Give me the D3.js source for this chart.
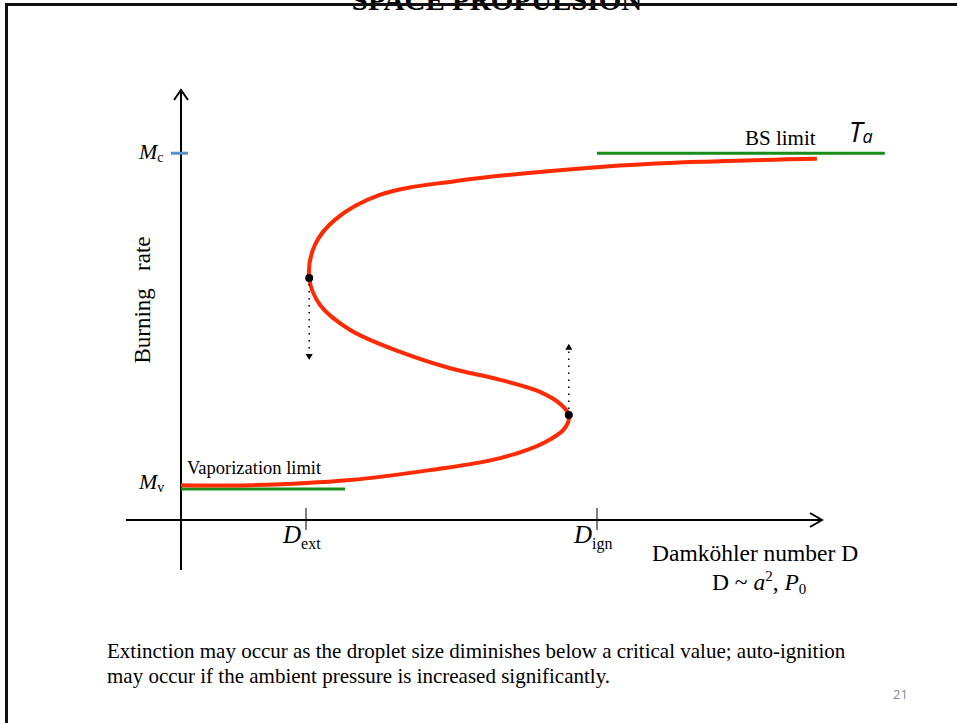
<!DOCTYPE html>
<html>
  <head>
    <meta charset="utf-8">
    <title>S-curve</title>
    <style>
      body { margin: 0; background: #fff; }
      .serif { font-family: "Liberation Serif", "Times New Roman", serif; }
      .sans { font-family: "Open Sans", "DejaVu Sans", sans-serif; }
    </style>
  </head>
  <body>
    <div class="chart"></div>
    <script src="https://d3js.org/d3.v7.min.js"></script>
    <script>
      // S-curve: burning rate vs Damkohler number (arbitrary units, 0-100)
      const curveD    = [0, 10.8, 26.4, 38.8, 49.8, 56.8, 59.9, 60.5, 59.4, 56.0, 49.8, 42.0, 34.2, 26.4, 21.7, 20.0, 20.9, 24.0, 31.0, 42.7, 65.4, 81.0, 99.2];
      const curveRate = [8.1, 8.1, 9.3, 11.6, 14.4, 18.1, 21.4, 24.4, 26.7, 29.8, 32.6, 35.3, 39.1, 44.2, 50.0, 56.3, 64.0, 69.8, 75.6, 78.8, 82.1, 83.3, 84.0];

      // turning points (extinction, ignition)
      const turnD    = [20.0, 60.5];
      const turnRate = [56.3, 24.4];
      const jumpTo   = [37.2, 41.0];   // dotted arrow end rate

      // limits
      const Mc = 85.3, Mv = 7.2;
      const bsLimit  = [64.9, 109.8];
      const vapLimit = [0, 25.6];

      // x ticks
      const xTicks = [19.5, 64.9];
      const xTickSubs = ["ext", "ign"];

      const W = 957, H = 723;
      const svg = d3.select(".chart").append("svg")
        .attr("width", W).attr("height", H)
        .attr("class", "serif");

      const x = d3.scaleLinear().domain([0, 100]).range([181, 822]);
      const y = d3.scaleLinear().domain([0, 100]).range([520, 90]);

      // slide frame and title
      svg.append("text")
        .attr("x", 497).attr("y", 10)
        .attr("text-anchor", "middle")
        .attr("font-size", 29).attr("font-weight", "bold")
        .text("SPACE PROPULSION");
      svg.append("path")
        .attr("d", `M6.5,${H} V4.5 H${W}`)
        .attr("fill", "none").attr("stroke", "#111").attr("stroke-width", 3);

      // axes
      const ax = svg.append("g").attr("stroke", "#000").attr("stroke-width", 2).attr("fill", "none");
      ax.append("line").attr("x1", x(0)).attr("x2", x(0)).attr("y1", 570).attr("y2", y(100) + 1);
      ax.append("path").attr("d", `M${x(0) - 7},${y(100) + 10} L${x(0)},${y(100)} L${x(0) + 7},${y(100) + 10}`);
      ax.append("line").attr("x1", 126).attr("x2", x(100) - 1).attr("y1", y(0)).attr("y2", y(0));
      ax.append("path").attr("d", `M${x(100) - 12},${y(0) - 7} L${x(100)},${y(0)} L${x(100) - 12},${y(0) + 7}`);

      // x ticks
      xTicks.forEach((t, i) => {
        svg.append("line")
          .attr("x1", x(t)).attr("x2", x(t)).attr("y1", y(0) - 12).attr("y2", y(0) + 10)
          .attr("stroke", "#000").attr("stroke-width", 1);
        const lbl = svg.append("text")
          .attr("x", x(t) - 23).attr("y", y(0) + 23)
          .attr("font-size", 25);
        lbl.append("tspan").attr("font-style", "italic").text("D");
        lbl.append("tspan").attr("font-size", 16).attr("dy", 6).text(xTickSubs[i]);
      });

      // Mc tick
      svg.append("line")
        .attr("x1", x(0) - 10).attr("x2", x(0) + 7).attr("y1", y(Mc)).attr("y2", y(Mc))
        .attr("stroke", "#5b8fd0").attr("stroke-width", 3);

      // y labels
      [["c", Mc, 6], ["v", Mv, 0]].forEach(([s, v, dy]) => {
        const t = svg.append("text")
          .attr("x", 139).attr("y", y(v) + dy)
          .attr("font-size", 22);
        t.append("tspan").attr("font-style", "italic").text("M");
        t.append("tspan").attr("font-size", 14).attr("dy", 3).text(s);
      });

      svg.append("text")
        .attr("transform", `translate(150,300) rotate(-90)`)
        .attr("text-anchor", "middle")
        .attr("font-size", 23)
        .style("white-space", "pre")
        .text("Burning   rate");

      // limit lines
      const green = "#1a8c1a";
      svg.append("line")
        .attr("x1", x(bsLimit[0])).attr("x2", x(bsLimit[1])).attr("y1", y(Mc)).attr("y2", y(Mc))
        .attr("stroke", green).attr("stroke-width", 3);
      svg.append("line")
        .attr("x1", x(vapLimit[0])).attr("x2", x(vapLimit[1])).attr("y1", y(Mv)).attr("y2", y(Mv))
        .attr("stroke", green).attr("stroke-width", 3);

      svg.append("text").attr("x", 745).attr("y", 145).attr("font-size", 21).text("BS limit");
      svg.append("text").attr("x", 187).attr("y", 474).attr("font-size", 18.5).text("Vaporization limit");

      const ta = svg.append("text").attr("x", 849).attr("y", 142)
        .attr("class", "sans").attr("font-style", "italic")
        .attr("font-size", 27);
      ta.append("tspan").text("T");
      ta.append("tspan").attr("font-size", 18).attr("dy", 1).text("a");

      // S-curve
      const pts = curveD.map((d, i) => [x(d), y(curveRate[i])]);
      svg.append("path")
        .attr("d", d3.line().curve(d3.curveCatmullRom.alpha(0.5))(pts))
        .attr("fill", "none").attr("stroke", "#ff2a00").attr("stroke-width", 4)
        .attr("stroke-linecap", "butt");

      // dotted jumps
      turnD.forEach((d, i) => {
        const y0 = y(turnRate[i]), y1 = y(jumpTo[i]);
        const dir = y1 > y0 ? 1 : -1;
        svg.append("line")
          .attr("x1", x(d)).attr("x2", x(d)).attr("y1", y0 + dir * 6).attr("y2", y1 - dir * 6)
          .attr("stroke", "#000").attr("stroke-width", 1.5).attr("stroke-dasharray", "1.5,5.5");
        svg.append("path")
          .attr("d", `M${x(d) - 3.5},${y1 - dir * 6} L${x(d) + 3.5},${y1 - dir * 6} L${x(d)},${y1} Z`)
          .attr("fill", "#000");
        svg.append("circle").attr("cx", x(d)).attr("cy", y0).attr("r", 4).attr("fill", "#000");
      });

      // axis title
      svg.append("text").attr("x", 652).attr("y", 561).attr("font-size", 23.5).text("Damköhler number D");
      const f = svg.append("text").attr("x", 712).attr("y", 590).attr("font-size", 23.5);
      f.append("tspan").text("D ~ ");
      f.append("tspan").attr("font-style", "italic").text("a");
      f.append("tspan").attr("font-size", 15).attr("dy", -9).text("2");
      f.append("tspan").attr("dy", 9).text(", ");
      f.append("tspan").attr("font-style", "italic").text("P");
      f.append("tspan").attr("font-size", 15).attr("dy", 4).text("0");

      // caption
      const cap = ["Extinction may occur as the droplet size diminishes below a critical value; auto-ignition",
                   "may occur if the ambient pressure is increased significantly."];
      cap.forEach((c, i) => {
        svg.append("text").attr("x", 107).attr("y", 658 + i * 25)
          .attr("font-size", 21).text(c);
      });
      svg.append("text").attr("x", 893).attr("y", 699)
        .attr("class", "sans").attr("font-size", 13)
        .attr("fill", "#888").text("21");
    </script>
  </body>
</html>
